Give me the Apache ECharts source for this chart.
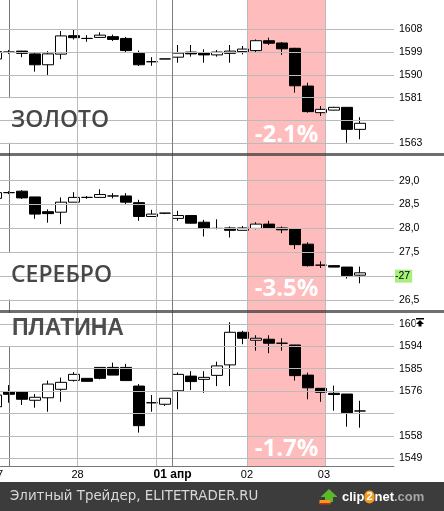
<!DOCTYPE html>
<html><head><meta charset="utf-8">
<script src="https://cdn.jsdelivr.net/npm/echarts@6/dist/echarts.min.js"></script>
<style>html,body{margin:0;padding:0;background:#fff;overflow:hidden}#c{width:444px;height:511px}</style>
</head><body><div id="c"></div>
<script>
// OHLC data, [open, close, low, high], first candle is the partial one at the left edge
const gold = [
 [1596.3,1599.2,1595.5,1600.0],[1599.0,1599.0,1598.3,1599.8],[1599.4,1598.5,1597.0,1599.5],
 [1598.3,1594.0,1591.3,1599.0],[1594.0,1598.3,1590.0,1599.4],[1598.2,1605.4,1596.2,1607.3],
 [1605.5,1604.7,1604.0,1608.1],[1604.4,1604.4,1603.1,1605.7],[1604.8,1605.7,1604.8,1606.8],
 [1605.1,1604.0,1603.4,1605.9],[1604.4,1599.6,1598.8,1605.0],[1598.5,1594.0,1593.5,1599.6],
 [1595.2,1595.2,1593.6,1597.0],[1596.3,1596.3,1596.3,1596.3],[1597.0,1598.6,1594.8,1601.8],
 [1599.0,1598.3,1597.2,1601.8],[1598.8,1597.9,1594.8,1600.1],[1597.9,1599.0,1597.2,1599.8],
 [1598.5,1599.4,1594.8,1601.8],[1599.2,1600.2,1598.1,1601.4],[1599.6,1603.5,1598.8,1604.0],
 [1603.5,1602.5,1601.8,1604.7],[1602.6,1600.3,1597.9,1603.0],[1600.5,1585.7,1583.0,1600.7],
 [1585.6,1575.5,1575.1,1586.9],[1575.1,1576.4,1573.8,1577.7],[1576.1,1577.2,1576.0,1577.4],
 [1577.2,1568.5,1563.2,1577.2],[1568.5,1570.9,1564.6,1573.3]
];
const silver = [
 [28.63,28.75,28.60,28.78],[28.75,28.75,28.72,28.78],[28.78,28.64,28.62,28.80],
 [28.66,28.30,28.20,28.66],[28.35,28.31,28.12,28.40],[28.34,28.55,28.09,28.65],
 [28.55,28.65,28.55,28.76],[28.65,28.65,28.62,28.68],[28.65,28.71,28.65,28.82],
 [28.68,28.68,28.63,28.74],[28.68,28.55,28.50,28.74],[28.54,28.25,28.16,28.60],
 [28.25,28.30,28.25,28.39],[28.32,28.32,28.30,28.32],[28.21,28.27,28.16,28.37],
 [28.27,28.11,28.10,28.27],[28.13,28.00,27.83,28.18],[28.00,28.00,27.98,28.19],
 [28.01,27.96,27.81,28.04],[27.96,28.01,27.96,28.05],[28.00,28.09,27.98,28.13],
 [28.09,28.00,28.00,28.16],[28.01,27.97,27.90,28.04],[27.99,27.66,27.57,27.99],
 [27.67,27.22,27.20,27.71],[27.23,27.23,27.17,27.31],[27.22,27.19,27.19,27.22],
 [27.19,27.01,26.95,27.19],[27.02,27.07,26.85,27.20]
];
const platinum = [
 [1569.7,1574.4,1568.0,1575.0],[1575.7,1574.7,1571.3,1578.4],[1575.7,1572.7,1570.4,1575.8],
 [1572.3,1573.5,1569.3,1574.8],[1573.3,1578.8,1567.7,1580.2],[1576.7,1579.5,1571.7,1581.4],
 [1580.3,1582.7,1579.8,1583.6],[1581.1,1579.9,1579.9,1581.1],[1585.5,1581.1,1580.7,1585.5],
 [1585.5,1582.4,1582.4,1587.4],[1585.5,1580.2,1580.2,1586.9],[1578.0,1562.1,1559.3,1578.8],
 [1571.3,1571.3,1567.7,1574.4],[1570.7,1573.1,1570.0,1573.1],[1576.1,1582.7,1568.7,1583.5],
 [1582.0,1579.8,1576.4,1584.0],[1580.7,1581.5,1575.3,1584.0],[1582.3,1586.1,1578.0,1587.8],
 [1586.5,1599.6,1578.0,1603.6],[1599.6,1597.2,1594.8,1600.2],[1596.4,1597.2,1592.2,1598.4],
 [1596.8,1595.2,1591.2,1598.4],[1595.2,1595.2,1592.2,1597.2],[1594.5,1582.2,1580.2,1594.5],
 [1582.4,1577.3,1572.7,1583.4],[1577.1,1575.5,1571.7,1577.1],[1575.1,1574.6,1568.1,1578.2],
 [1574.8,1567.3,1561.7,1574.8],[1568.0,1568.0,1561.3,1572.1]
];
const goldGrid = [1563,1572,1581,1590,1599,1608];
const goldLabels = [1563,1581,1590,1599,1608];
const silverGrid = [26.5,27,27.5,28,28.5,29];
const silverLabels = [26.5,27,27.5,28,28.5,29];
const platinumGrid = [1549,1558,1567,1576,1585,1594,1603];
const platinumLabels = [1549,1558,1576,1585,1594,1603];
const dayLines = [5.2692,11.3077,12.5769,18.3462,24.3462];
const dayTicks = [-0.923,5.2692,12.5769,18.3,24.23];
const dayLabels = ['27','28','01 апр','02','03'];
const band = [18.3462,24.3462];
const names = ['ЗОЛОТО','СЕРЕБРО','ПЛАТИНА'];
const changes = ['-2.1%','-3.5%','-1.7%'];

const sets = [gold, silver, platinum];
const gridLines = [goldGrid, silverGrid, platinumGrid];
const axisLabels = [goldLabels, silverLabels, platinumLabels];
const ranges = [[1558.58,1619.57],[26.259,29.549],[1545.91,1607.94]];
const grids = [{top:0,height:154.5},{top:154.5,height:157},{top:311.5,height:154.5}];
const xMin = -1.6923, xMax = 29.6154;
const pctDist = [7.5, 10, 4.5];
const fmts = [
  v => '{n|' + v + '}',
  v => Math.abs(v-27) < 1e-6 ? '{g|-27}' : '{n|' + v.toFixed(1).replace('.', ',') + '}',
  v => '{n|' + v + '}'
];
const lblFont = 'Liberation Sans, Arial';

const chart = echarts.init(document.getElementById('c'), null, {renderer:'canvas'});
const series = [];
[0,1,2].forEach(k => {
  series.push({
    type:'line', xAxisIndex:k, yAxisIndex:k, data:[], z:0, silent:true,
    markArea:{silent:true, itemStyle:{color:'#ffbcbc'},
      label:{show:true, position:'insideBottom', distance:pctDist[k], color:'#fff', fontSize:24,
        fontWeight:'bold', fontFamily:'Open Sans', formatter: changes[k]},
      data:[[{xAxis:band[0]},{xAxis:band[1]}]]}
  });
  series.push({
    type:'line', xAxisIndex:k, yAxisIndex:k, data:[], z:1, silent:true,
    markLine:{silent:true, symbol:['none','none'], label:{show:false}, animation:false,
      data:[
        ...gridLines[k].map(v => ({yAxis:v, lineStyle:{color:'#bababa', type:'solid', width:1}})),
        ...dayLines.map((v,i) => ({xAxis:v, lineStyle:{color: i===2 ? '#7d7d7d' : '#bababa', type:'solid', width:1}}))
      ]}
  });
  series.push({
    type:'candlestick', xAxisIndex:k, yAxisIndex:k, z:2, barWidth:11, silent:true,
    data: sets[k].map((d,i) => [i-1, d[0], d[1], d[2], d[3]]),
    encode:{x:0, y:[1,2,3,4]},
    itemStyle:{color:'#fff', color0:'#000', borderColor:'#000', borderColor0:'#000', borderColorDoji:'#000', borderWidth:1}
  });
});

const option = {
  animation:false,
  grid: grids.map(g => ({left:-13, right:50, top:g.top, height:g.height, outerBoundsMode:'none', containLabel:false})),
  xAxis: [0,1,2].map(k => ({
    type:'value', gridIndex:k, min:xMin, max:xMax, show: k===2,
    axisLine:{show:true, lineStyle:{color:'#777'}},
    axisTick:{show:false},
    splitLine:{show:false},
    axisLabel:{show: k===2, customValues: dayTicks, margin:3, fontSize:11, color:'#000',
      fontFamily:lblFont, hideOverlap:false,
      formatter: v => { const i = dayTicks.findIndex(t => Math.abs(t-v) < 1e-3); const s = dayLabels[i]; return s === '01 апр' ? '{b|' + s + '}' : s; },
      rich:{b:{fontWeight:'bold', fontSize:12, fontFamily:lblFont, color:'#000'}}}
  })),
  yAxis: [0,1,2].map(k => ({
    type:'value', gridIndex:k, position:'right', min:ranges[k][0], max:ranges[k][1], z:3,
    axisLine:{show:true, lineStyle:{color:'#777'}},
    axisTick:{show:true, length:4, lineStyle:{color:'#555'}, customValues: axisLabels[k]},
    splitLine:{show:false},
    axisLabel:{show:true, customValues: axisLabels[k], margin:1, fontSize:10.5, color:'#000',
      fontFamily:lblFont, formatter: fmts[k], hideOverlap:false,
      showMinLabel:true, showMaxLabel:true,
      rich:{
        n:{padding:[0,0,0,4], fontSize:10.5, color:'#000', fontFamily:lblFont},
        g:{backgroundColor:'#a6f07c', padding:[1,2,1,0], fontSize:10.5, color:'#000', fontFamily:lblFont}
      }}
  })),
  series: series,
  graphic: [
    {type:'rect', z:10, silent:true, shape:{x:0,y:153,width:444,height:3}, style:{fill:'rgba(50,50,50,0.7)'}},
    {type:'rect', z:10, silent:true, shape:{x:0,y:310,width:444,height:3}, style:{fill:'rgba(50,50,50,0.7)'}},
    {type:'rect', z:5, silent:true, shape:{x:0,y:98.2,width:156,height:44.6}, style:{fill:'#fff'}},
    {type:'rect', z:5, silent:true, shape:{x:0,y:252.8,width:156,height:46.7}, style:{fill:'#fff'}},
    {type:'rect', z:5, silent:true, shape:{x:0,y:313,width:156,height:33}, style:{fill:'#fff'}},
    {type:'text', z:6, silent:true, x:11, y:120, style:{text:names[0], fill:'#474747', font:'600 23px "Open Sans"', verticalAlign:'middle'}},
    {type:'text', z:6, silent:true, x:11, y:275, style:{text:names[1], fill:'#474747', font:'600 23px "Open Sans"', verticalAlign:'middle'}},
    {type:'text', z:6, silent:true, x:12, y:329, style:{text:names[2], fill:'#4d4d4d', font:'bold 23px "Liberation Sans"', verticalAlign:'middle'}},
    // scroll icon over the top platinum label
    {type:'rect', z:6, silent:true, shape:{x:415.5,y:316,width:10,height:12}, style:{fill:'#fff'}},
    {type:'rect', z:7, silent:true, shape:{x:416,y:318,width:8,height:1.5}, style:{fill:'#000'}},
    {type:'polygon', z:7, silent:true, shape:{points:[[420,320],[416,324],[418.5,324],[418.5,326.5],[421.5,326.5],[421.5,324],[424,324]]}, style:{fill:'#000'}},
    // footer
    {type:'rect', z:10, silent:true, shape:{x:0,y:482,width:444,height:29}, style:{fill:'#3c3c3c'}},
    {type:'text', z:11, silent:true, x:10, y:497, style:{text:'Элитный Трейдер, ELITETRADER.RU', fill:'#d8d8d8', font:'13.4px "DejaVu Sans"', verticalAlign:'middle'}},
    {type:'polygon', z:11, silent:true, shape:{points:[[329,489],[320.5,497],[325,497],[325,502],[333,502],[333,497],[337.5,497]]}, style:{fill:'#5cb82a'}},
    {type:'rect', z:12, silent:true, shape:{x:319.5,y:500,width:11,height:4}, style:{fill:'#f39a1e'}},
    {type:'rect', z:12, silent:true, shape:{x:319.5,y:503,width:11,height:1.5}, style:{fill:'#d0281c'}},
    {type:'text', z:11, silent:true, x:342, y:497, style:{text:'{w|clip}{o|2}{w|net}{g|.com}', verticalAlign:'middle',
      rich:{w:{fill:'#fff', font:'bold 13px "Liberation Sans"'}, o:{fill:'#fff', font:'bold 11px "Liberation Sans"', backgroundColor:'#f39a1e', borderRadius:7, padding:[1,2,1,2]}, g:{fill:'#a6a6a6', font:'bold 13px "Liberation Sans"'}}}}
  ]
};
chart.setOption(option);
</script>
</body></html>
